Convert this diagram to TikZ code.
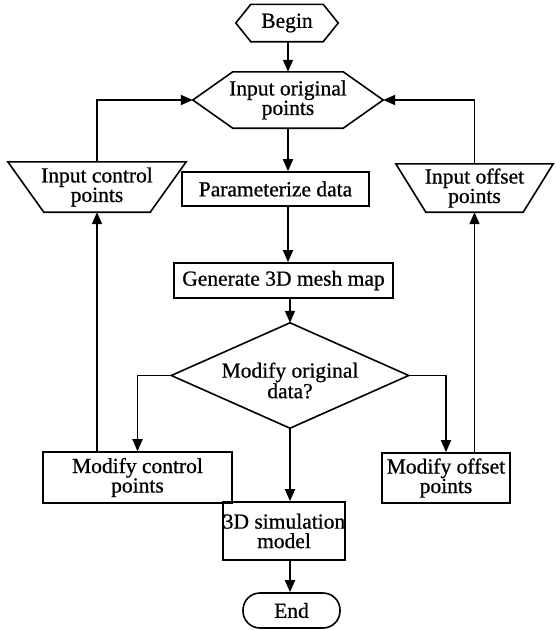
\documentclass[tikz,border=0pt]{standalone}
\usepackage{fontspec}
\setmainfont{Liberation Serif}[FakeBold=0.7]
\usetikzlibrary{arrows.meta,calc}
\begin{document}
\begin{tikzpicture}[x=1pt,y=-1pt,
  every node/.style={font=\fontsize{21.5}{19.5}\selectfont, align=center, inner sep=0pt},
  sz/.style 2 args={minimum width=#1pt, minimum height=#2pt},
  procbox/.style={draw, line width=1.6pt},
  outline/.style={line width=1.6pt, line join=miter},
  ln/.style={line width=1.8pt},
  arr/.style={ln, -{Triangle[length=12pt,width=10pt]}}]
\useasboundingbox (0,0) rectangle (555,630);

% nodes
\node[sz={102}{37}] (begin) at (287,23) {Begin};
\node[sz={190}{56}] (inp) at (288,100) {Input original\\points};
\node[procbox, sz={187}{34}] (param) at (275.5,189) {Parameterize data};
\node[procbox, sz={219}{35}] (gen) at (283.5,280.5) {Generate 3D mesh map};
\node[sz={237}{105}] (dia) at (290,375.5) {};
\node at ($(dia)+(0,5)$) {Modify original\\data?};
\node[sz={178}{50}] (ctrl) at (97,187) {Input control\\points};
\node[sz={157}{48}] (off) at (474.5,188) {Input offset\\points};
\node[procbox, sz={189}{51}] (mctrl) at (137.5,477.5) {Modify control\\points};
\node[procbox, sz={128}{50}] (moff) at (446,478) {Modify offset\\points};
\node[procbox, sz={122}{58}] (sim) at (284,531) {3D simulation\\model};
\node[draw, line width=1.6pt, rounded corners=17pt, sz={97}{35}] (end) at (291.5,610.5) {End};

% outlines
\draw[outline] (begin.west) -- ([xshift=15pt]begin.north west) -- ([xshift=-15pt]begin.north east)
  -- (begin.east) -- ([xshift=-15pt]begin.south east) -- ([xshift=15pt]begin.south west) -- cycle;
\draw[outline] (inp.west) -- ([xshift=40pt]inp.north west) -- ([xshift=-40pt]inp.north east)
  -- (inp.east) -- ([xshift=-40pt]inp.south east) -- ([xshift=40pt]inp.south west) -- cycle;
\draw[outline] (dia.west) -- (dia.north) -- (dia.east) -- (dia.south) -- cycle;
\draw[outline] (ctrl.north west) -- (ctrl.north east) -- ([xshift=-36pt]ctrl.south east)
  -- ([xshift=36pt]ctrl.south west) -- cycle;
\draw[outline] (off.north west) -- (off.north east) -- ([xshift=-30pt]off.south east)
  -- ([xshift=30pt]off.south west) -- cycle;

% connectors
\draw[arr] (begin.south -| inp.south) -- (inp.south |- inp.north);
\draw[arr] (inp.south) -- (inp.south |- param.north);
\draw[arr] (inp.south |- param.south) -- (inp.south |- gen.north);
\draw[arr] (dia.north |- gen.south) -- (dia.north);
\draw[arr] (dia.south) -- (dia.south |- sim.north);
\draw[arr] (dia.south |- sim.south) -- (dia.south |- end.north);
\draw[arr] (ctrl.north) |- (inp.west);
\draw[arr] (off.north) |- (inp.east);
\draw[arr] (dia.west) -| (mctrl.north);
\draw[arr] (dia.east) -| (moff.north);
\draw[arr] (mctrl.north -| ctrl.south) -- (ctrl.south);
\draw[arr] (moff.north -| off.south) -- (off.south);
\end{tikzpicture}
\end{document}
